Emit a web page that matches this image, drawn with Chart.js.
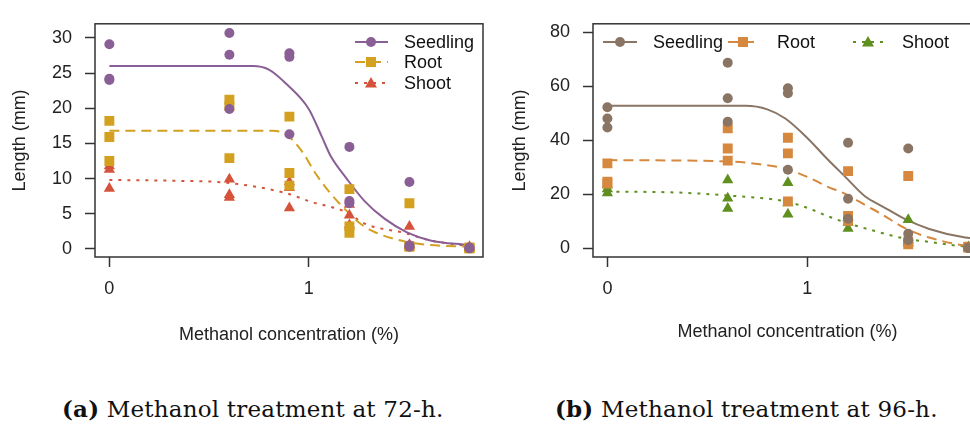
<!DOCTYPE html>
<html>
<head>
<meta charset="utf-8">
<script src="https://cdn.jsdelivr.net/npm/chart.js@4/dist/chart.umd.min.js"></script>
<style>
  html, body { margin: 0; padding: 0; background: #fff; }
  body { width: 970px; height: 424px; overflow: hidden; position: relative; }
  .panel { position: absolute; top: 0; height: 360px; }
  #panelA { left: 0; width: 490px; }
  #panelB { left: 490px; width: 500px; }
  .caption { position: absolute; top: 395px; font-family: "DejaVu Serif", serif; font-size: 23px; letter-spacing: 0.2px; color: #111; white-space: nowrap; }
</style>
</head>
<body>
<div class="panel" id="panelA"><canvas id="chartA" width="490" height="360"></canvas></div>
<div class="panel" id="panelB"><canvas id="chartB" width="500" height="360"></canvas></div>
<div class="caption" style="left:62px"><b>(a)</b> Methanol treatment at 72-h.</div>
<div class="caption" style="left:555px"><b>(b)</b> Methanol treatment at 96-h.</div>
<script>
// doses (log scale) and ticks
const doses = [0, 0.602, 0.903, 1.204, 1.505, 1.806];
const xTicks = [0, 1];
const yTicksA = [0, 5, 10, 15, 20, 25, 30];
const yTicksB = [0, 20, 40, 60, 80];

// 72-h replicates, one row per dose
const seedling72 = [[29.1, 24.2, 24.0], [30.7, 27.6, 19.9], [27.8, 27.3, 16.3], [14.5, 6.8, 6.5], [9.5, 0.5, 0.3], [0.1, 0.1, 0.2]];
const root72 = [[18.2, 15.9, 12.5], [21.2, 20.3, 12.9], [18.8, 10.8, 9.0], [8.5, 3.2, 2.3], [6.5, 0.4, 0.3], [0.2, 0.1, 0.1]];
const shoot72 = [[11.8, 11.3, 8.6], [9.9, 7.7, 7.3], [9.5, 8.7, 5.8], [6.3, 4.8, 3.4], [3.2, 0.6, 0.4], [0.3, 0.2, 0.1]];

// 96-h replicates
const seedling96 = [[52.3, 48.1, 44.8], [68.8, 55.6, 46.9], [59.3, 57.5, 29.1], [39.1, 18.4, 11.0], [37.0, 5.4, 3.0], [0.3, 0.2, 0.1]];
const root96 = [[31.5, 24.7, 24.0], [44.5, 37.0, 32.5], [41.0, 35.2, 17.4], [28.6, 12.0, 10.2], [26.8, 2.5, 1.5], [0.6, 0.4, 0.3]];
const shoot96 = [[23.5, 22.0, 20.5], [25.3, 18.6, 14.8], [24.3, 16.8, 12.6], [11.4, 9.6, 7.4], [10.6, 3.0, 2.0], [0.5, 0.3, 0.2]];

// fitted curves
const seedlingFit72X = [0, 0.72, 0.8, 0.89, 1.0, 1.065, 1.11, 1.19, 1.28, 1.38, 1.49, 1.61, 1.8];
const seedlingFit72Y = [26.0, 26.0, 25.5, 23.4, 19.9, 16.0, 13.2, 10.0, 6.8, 4.3, 2.4, 1.2, 0.55];
const rootFit72X = [0, 0.82, 0.89, 0.97, 1.03, 1.1, 1.19, 1.25, 1.33, 1.49, 1.61, 1.8];
const rootFit72Y = [16.8, 16.8, 16.2, 13.7, 10.9, 8.2, 5.4, 3.8, 2.4, 1.0, 0.55, 0.3];
const shootFit72X = [0, 0.3, 0.59, 0.89, 1.0, 1.19, 1.28, 1.49, 1.61, 1.8];
const shootFit72Y = [9.8, 9.7, 9.4, 7.9, 6.8, 5.2, 3.6, 2.2, 1.2, 0.4];

const seedlingFit96X = [0, 0.69, 0.8, 0.89, 1.0, 1.1, 1.19, 1.29, 1.375, 1.49, 1.61, 1.79, 1.87];
const seedlingFit96Y = [52.8, 52.8, 51.5, 48.1, 40.9, 33.1, 26.5, 19.2, 15.6, 10.8, 7.2, 4.0, 3.5];
const rootFit96X = [0, 0.6, 0.75, 0.89, 1.0, 1.1, 1.19, 1.3, 1.36, 1.49, 1.61, 1.8, 1.87];
const rootFit96Y = [32.7, 32.2, 31.3, 29.5, 26.5, 22.9, 20.2, 15.6, 13.2, 7.4, 4.0, 0.9, 0.6];
const shootFit96X = [0, 0.3, 0.6, 0.89, 1.0, 1.1, 1.19, 1.3, 1.49, 1.61, 1.8, 1.87];
const shootFit96Y = [21.0, 20.8, 19.6, 17.4, 15.0, 12.0, 9.6, 7.2, 3.6, 2.4, 0.6, 0.4];

const labels = ['Seedling', 'Root', 'Shoot'];

const FONT = '"Liberation Sans", Arial, sans-serif';
const INK = '#222';

function toPoints(reps) {
    return doses.flatMap((d, i) => reps[i].map(v => ({ x: d, y: v })));
}
function toCurve(xs, ys) {
    return xs.map((x, i) => ({ x: x, y: ys[i] }));
}

// R-style marker drawing for the legend
function marker(ctx, style, x, y, color) {
    ctx.save();
    ctx.fillStyle = color;
    ctx.beginPath();
    if (style === 'circle') {
        ctx.arc(x, y, 5, 0, Math.PI * 2);
    } else if (style === 'rect') {
        ctx.rect(x - 5, y - 5, 10, 10);
    } else {
        ctx.moveTo(x, y - 6); ctx.lineTo(x + 6, y + 4.5); ctx.lineTo(x - 6, y + 4.5); ctx.closePath();
    }
    ctx.fill();
    ctx.restore();
}

const boxPlugin = {
    id: 'box',
    afterDraw(chart, args, opts) {
        const { ctx, chartArea: a } = chart;
        ctx.save();
        ctx.strokeStyle = '#333';
        ctx.lineWidth = 1.5;
        ctx.strokeRect(a.left, a.top, a.right - a.left, a.bottom - a.top);
        // legend
        ctx.font = '18px ' + FONT;
        ctx.textBaseline = 'middle';
        ctx.textAlign = 'left';
        (opts.items || []).forEach(it => {
            ctx.strokeStyle = it.color;
            ctx.lineWidth = 2;
            ctx.setLineDash(it.dash);
            ctx.beginPath();
            ctx.moveTo(it.x0, it.y); ctx.lineTo(it.x1, it.y);
            ctx.stroke();
            ctx.setLineDash([]);
            marker(ctx, it.style, it.mx, it.y, it.color);
            ctx.fillStyle = '#111';
            ctx.fillText(it.label, it.tx, it.y + 1);
        });
        ctx.restore();
    }
};

function makePanel(id, p) {
    const styles = ['circle', 'rect', 'triangle'];
    const dashes = [[], [10, 6], [3, 6]];
    const radii = [5, 7, 6.5];
    const datasets = [];
    p.fits.forEach((f, i) => {
        datasets.push({
            label: labels[i] + ' fit', data: toCurve(f[0], f[1]), showLine: true,
            borderColor: p.colors[i], borderWidth: 2, borderDash: dashes[i],
            pointRadius: 0, cubicInterpolationMode: 'monotone', order: 2
        });
    });
    p.reps.forEach((r, i) => {
        datasets.push({
            label: labels[i], data: toPoints(r), pointStyle: styles[i],
            pointRadius: radii[i], pointHoverRadius: radii[i],
            backgroundColor: p.colors[i], borderColor: p.colors[i], borderWidth: 0, order: 1
        });
    });

    const tickFont = { family: FONT, size: 18 };
    return new Chart(document.getElementById(id), {
        type: 'scatter',
        data: { datasets },
        options: {
            responsive: false,
            animation: false,
            devicePixelRatio: 1,
            layout: { padding: { top: 17, right: p.padRight, left: 0, bottom: 0 } },
            plugins: { legend: { display: false }, tooltip: { enabled: false }, box: { items: p.legend } },
            scales: {
                x: {
                    type: 'linear', min: -0.072, max: 1.874,
                    afterBuildTicks: s => { s.ticks = xTicks.map(v => ({ value: v })); },
                    afterFit: s => { s.height = 103; },
                    grid: { drawOnChartArea: false, drawTicks: true, tickLength: 10, tickColor: '#333', tickWidth: 1.5 },
                    border: { display: false },
                    ticks: { font: tickFont, color: INK, padding: 11, maxRotation: 0 },
                    title: { display: true, text: 'Methanol concentration (%)', font: { family: FONT, size: 18 }, color: INK, padding: { top: 0, bottom: p.xTitlePad } }
                },
                y: {
                    type: 'linear', min: p.yMin, max: p.yMax,
                    afterBuildTicks: s => { s.ticks = p.yTicks.map(v => ({ value: v })); },
                    afterFit: s => { s.width = p.yWidth; },
                    grid: { drawOnChartArea: false, drawTicks: true, tickLength: 10, tickColor: '#333', tickWidth: 1.5 },
                    border: { display: false },
                    ticks: { font: tickFont, color: INK, padding: 13 },
                    title: { display: true, text: 'Length (mm)', font: { family: FONT, size: 18 }, color: INK, padding: { top: p.yTitlePad, bottom: 0 } }
                }
            }
        },
        plugins: [boxPlugin]
    });
}

const colors72 = ['#8a5f95', '#d4a020', '#d5533a'];
const colors96 = ['#8a7565', '#d6883e', '#5f8f1f'];

makePanel('chartA', {
    reps: [seedling72, root72, shoot72],
    fits: [[seedlingFit72X, seedlingFit72Y], [rootFit72X, rootFit72Y], [shootFit72X, shootFit72Y]],
    colors: colors72, yMin: -1.15, yMax: 32.0, yTicks: yTicksA,
    padRight: 7, yWidth: 95, yTitlePad: 9, xTitlePad: 14,
    legend: [
        { label: 'Seedling', color: colors72[0], dash: [], style: 'circle', x0: 355, x1: 388, mx: 371, tx: 404, y: 42 },
        { label: 'Root', color: colors72[1], dash: [10, 6], style: 'rect', x0: 355, x1: 388, mx: 371, tx: 404, y: 62 },
        { label: 'Shoot', color: colors72[2], dash: [3, 6], style: 'triangle', x0: 355, x1: 388, mx: 371, tx: 404, y: 83 }
    ]
});

makePanel('chartB', {
    reps: [seedling96, root96, shoot96],
    fits: [[seedlingFit96X, seedlingFit96Y], [rootFit96X, rootFit96Y], [shootFit96X, shootFit96Y]],
    colors: colors96, yMin: -3.2, yMax: 83.2, yTicks: yTicksB,
    padRight: 8, yWidth: 103, yTitlePad: 19, xTitlePad: 17,
    legend: [
        { label: 'Seedling', color: colors96[0], dash: [], style: 'circle', x0: 113, x1: 147, mx: 130, tx: 163, y: 42 },
        { label: 'Root', color: colors96[1], dash: [10, 6], style: 'rect', x0: 238, x1: 267, mx: 253, tx: 287, y: 42 },
        { label: 'Shoot', color: colors96[2], dash: [3, 6], style: 'triangle', x0: 363, x1: 393, mx: 378, tx: 412, y: 42 }
    ]
});
</script>
</body>
</html>
